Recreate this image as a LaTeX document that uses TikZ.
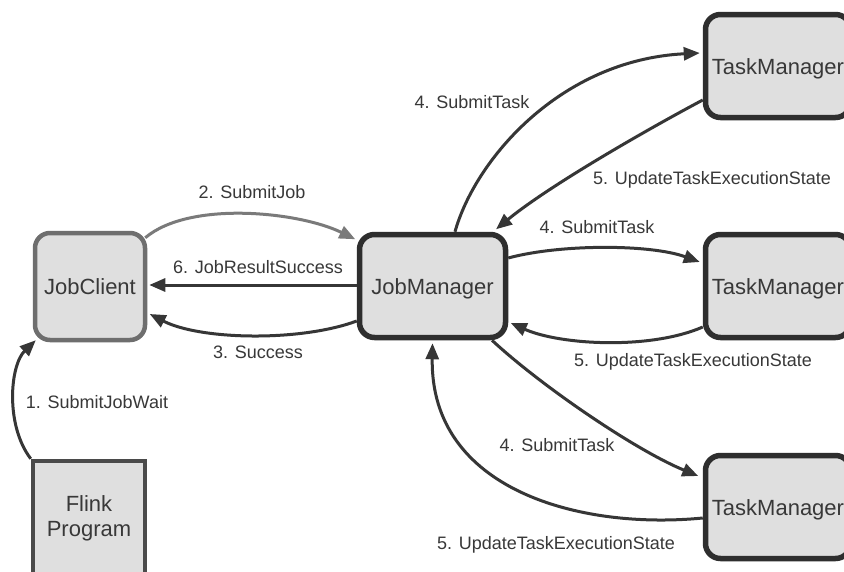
\documentclass[tikz,border=0pt]{standalone}
\usepackage{fontspec}
\setmainfont{Liberation Sans}
\usetikzlibrary{arrows.meta,calc}
\definecolor{boxfill}{HTML}{DFDFDF}
\definecolor{textc}{HTML}{383838}
\definecolor{clientline}{HTML}{6E6E6E}
\definecolor{darkline}{HTML}{2E2E2E}
\definecolor{progline}{HTML}{4A4A4A}
\definecolor{linec}{HTML}{363636}
\definecolor{lightlinec}{HTML}{7A7A7A}
\begin{document}
\begin{tikzpicture}[x=1pt,y=1pt,
  box/.style={draw=darkline, fill=boxfill, rounded corners=15pt, line width=5.5pt,
    text=textc, font=\fontsize{22}{25}\selectfont, inner sep=0pt,
    text height=16pt, text depth=0pt},
  tmbox/.style={box, minimum width=145pt, minimum height=103pt},
  lab/.style={font=\fontsize{18}{20}\selectfont, text=textc, inner sep=0pt,
    text height=13pt, text depth=0pt},
  conn/.style={draw=linec, line width=3pt, -{Triangle[length=16pt,width=13pt]}}]
\clip (0,0) rectangle (844,-571);
\fill[white] (0,0) rectangle (844,-571);

% processes
\node[box, draw=clientline, line width=4.5pt, minimum width=110pt, minimum height=107pt]
  (jc) at (90,-286.5) {JobClient};
\node[box, minimum width=146pt, minimum height=103pt] (jm) at (432.5,-286) {JobManager};
\node[tmbox] (tm1) at (778,-66) {TaskManager};
\node[tmbox] (tm2) at (778,-286) {TaskManager};
\node[tmbox] (tm3) at (778,-507) {TaskManager};
\node[box, draw=progline, line width=4.5pt, rounded corners=0pt, align=center,
  text height=, text depth=, minimum width=112pt, minimum height=114pt]
  (fp) at (89,-518) {Flink\\Program};

% messages
\draw[conn] (fp.north west) .. controls (5,-425) and (10,-365) .. ($(jc.south west)+(3,2)$);
\draw[conn, draw=lightlinec] ($(jc.north east)+(-2,-7)$) .. controls (190,-200) and (300,-212) .. ($(jm.north west)+(-1.5,-7.5)$);
\draw[conn] ($(jm.west)+(0,1)$) -- ($(jc.east)+(2,1.5)$);
\draw[conn] ($(jm.west)+(0,-35)$) .. controls (300,-342) and (200,-340) .. ($(jc.east)+(2.5,-27.5)$);
\draw[conn] ($(jm.north)+(22.5,0)$) .. controls (475,-160) and (560,-60) .. ($(tm1.west)+(-3,13)$);
\draw[conn] ($(tm1.west)+(0,-34)$) .. controls (650,-128) and (550,-185) .. ($(jm.north)+(63.5,2.5)$);
\draw[conn] ($(jm.east)+(0,28)$) .. controls (560,-244) and (650,-244) .. ($(tm2.west)+(-3,24)$);
\draw[conn] ($(tm2.west)+(0,-41)$) .. controls (650,-350) and (560,-345) .. ($(jm.east)+(2.5,-37)$);
\draw[conn] ($(jm.south)+(59.5,0)$) .. controls (540,-385) and (635,-450) .. ($(tm3.west)+(-4.5,31)$);
\draw[conn] ($(tm3.west)+(0,-11)$) .. controls (580,-530) and (430,-490) .. ($(jm.south)+(0,-3)$);

% message labels
\node[lab] (l1) at (97,-402) {1. SubmitJobWait};
\node[lab] (l2) at (252,-192) {2. SubmitJob};
\node[lab] (l6) at (258,-267) {6. JobResultSuccess};
\node[lab] (l3) at (258,-352) {3. Success};
\node[lab] (l4a) at (472,-102) {4. SubmitTask};
\node[lab] (l5a) at (712,-178) {5. UpdateTaskExecutionState};
\node[lab] (l4b) at (597,-227) {4. SubmitTask};
\node[lab] (l5b) at (693,-360) {5. UpdateTaskExecutionState};
\node[lab] (l4c) at (557,-445) {4. SubmitTask};
\node[lab] (l5c) at (556,-543) {5. UpdateTaskExecutionState};
\end{tikzpicture}
\end{document}
